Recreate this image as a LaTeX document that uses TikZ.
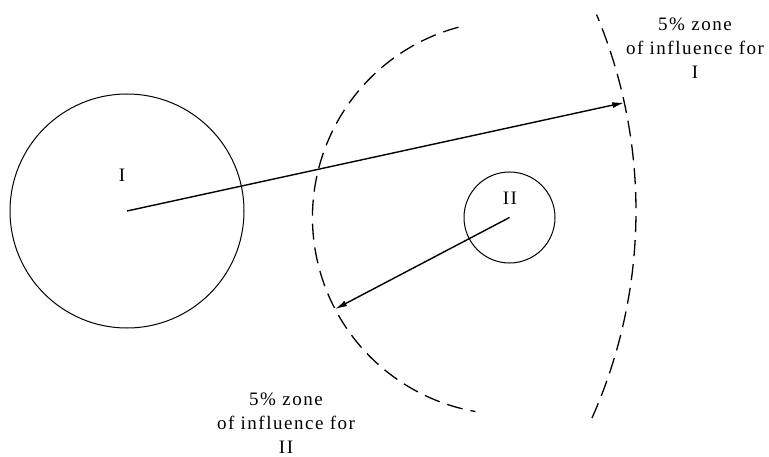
\documentclass[tikz,border=0pt]{standalone}
\usepackage{fontspec}
\setmainfont{Liberation Serif}[LetterSpace=8]
\usetikzlibrary{arrows.meta, positioning}

\begin{document}
\begin{tikzpicture}[x=1pt, y=1pt,
  site/.style={circle, draw, line width=1pt, inner sep=0pt},
  zone/.style={line width=1.3pt, dash pattern=on 16pt off 8pt},
  reach/.style={line width=1.4pt, -{Latex[length=12pt,width=6pt]}},
  note/.style={align=center, font=\fontsize{19}{24}\selectfont}]

\useasboundingbox (0,0) rectangle (769,456);

\node[site, minimum size=234pt] (one) at (127,245) {};
\node[site, minimum size=91pt] (two) at (509.5,238.5) {};
\node[note] (onelabel) at (122,281) {I};
\node[note] (twolabel) at (510,258) {II};

% zones of influence
\draw[zone] (one.center) ++(-24:509) arc[start angle=-24, end angle=22.7, radius=509];
\draw[zone] (two.center) ++(105:197) arc[start angle=105, end angle=260, radius=197];

\path (one.center) ++(12.3:509) coordinate (reachone);
\path (two.center) ++(207.7:197) coordinate (reachtwo);

\draw[reach] (one.center) -- (reachone);
\draw[reach] (two.center) -- (reachtwo);

\node[note] (zoneone) at (695,408) {5\% zone\\of influence for\\I};
\node[note] (zonetwo) at (286,33) {5\% zone\\of influence for\\II};

\end{tikzpicture}
\end{document}
